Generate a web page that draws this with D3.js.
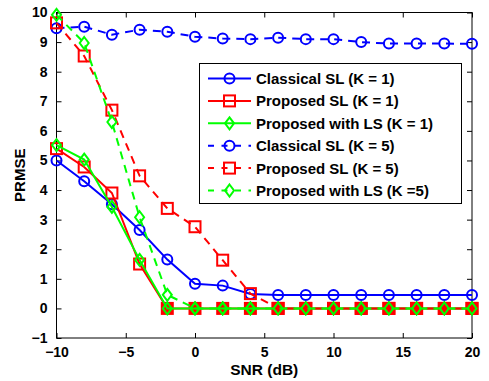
<!DOCTYPE html>
<html><head><meta charset="utf-8">
<script src="https://cdn.jsdelivr.net/npm/d3@7"></script>
<style>body{margin:0;background:#fff}svg{display:block}text{font-family:"Liberation Sans",Arial,sans-serif;font-weight:bold}</style>
</head><body><svg id="c" width="489" height="381"></svg>
<script>
const snr = [-10,-8,-6,-4,-2,0,2,4,6,8,10,12,14,16,18,20];
const classicalK1 = [5.0,4.3,3.52,2.65,1.65,0.83,0.77,0.49,0.45,0.45,0.45,0.45,0.45,0.45,0.45,0.45];
const proposedK1 = [5.4,4.78,3.9,1.5,0,0,0,0,0,0,0,0,0,0,0,0];
const lsK1 = [5.52,5.03,3.43,1.64,0,0,0,0,0,0,0,0,0,0,0,0];
const classicalK5 = [9.47,9.52,9.25,9.42,9.35,9.18,9.12,9.1,9.15,9.1,9.1,9.0,8.95,8.95,8.95,8.94];
const proposedK5 = [9.65,8.53,6.7,4.48,3.38,2.76,1.63,0.5,0,0,0,0,0,0,0,0];
const lsK5 = [9.92,8.97,6.3,3.08,0.46,0,0,0,0,0,0,0,0,0,0,0];
const xTicks = [-10,-5,0,5,10,15,20];
const yTicks = [-1,0,1,2,3,4,5,6,7,8,9,10];
const labels = ["Classical SL (K = 1)","Proposed SL (K = 1)","Proposed with LS (K = 1)","Classical SL (K = 5)","Proposed SL (K = 5)","Proposed with LS (K =5)"];

const series = [
 {name:labels[0], v:classicalK1, c:"#0000ff", m:"circle", dash:null},
 {name:labels[1], v:proposedK1, c:"#ff0000", m:"square", dash:null},
 {name:labels[2], v:lsK1, c:"#00ff00", m:"diamond", dash:null},
 {name:labels[3], v:classicalK5, c:"#0000ff", m:"circle", dash:"8,6"},
 {name:labels[4], v:proposedK5, c:"#ff0000", m:"square", dash:"8,6"},
 {name:labels[5], v:lsK5, c:"#00ff00", m:"diamond", dash:"8,6"}
];

const L=56.5, R=472, T=12.5, B=338;
const svg = d3.select("#c");
const x = d3.scaleLinear().domain([-10,20]).range([L,R]);
const y = d3.scaleLinear().domain([-1,10]).range([B,T]);

const g = svg.append("g");
g.append("g").attr("transform",`translate(0,${B})`).call(d3.axisBottom(x).tickValues(xTicks).tickSizeInner(-5).tickSizeOuter(0).tickPadding(9).tickFormat(d=>d<0?"\u2212"+Math.abs(d):d));
g.append("g").attr("transform",`translate(0,${T})`).call(d3.axisTop(x).tickValues(xTicks).tickSizeInner(-5).tickSizeOuter(0).tickFormat(""));
g.append("g").attr("transform",`translate(${L},0)`).call(d3.axisLeft(y).tickValues(yTicks).tickSizeInner(-5).tickSizeOuter(0).tickPadding(9).tickFormat(d=>d<0?"\u2212"+Math.abs(d):d));
g.append("g").attr("transform",`translate(${R},0)`).call(d3.axisRight(y).tickValues(yTicks).tickSizeInner(-5).tickSizeOuter(0).tickFormat(""));
g.selectAll(".domain").remove();
g.selectAll(".tick line").attr("stroke","#000").attr("stroke-width",1);
g.selectAll(".tick text").attr("font-size",14).attr("fill","#000").style("font-family",'"Liberation Sans",Arial,sans-serif').style("font-weight","bold");
svg.append("rect").attr("x",L).attr("y",T).attr("width",R-L).attr("height",B-T).attr("fill","none").attr("stroke","#000").attr("stroke-width",1);

function marker(sel, type, c, filled){
  if(type==="circle") sel.append("circle").attr("r",5).attr("fill","none").attr("stroke",c).attr("stroke-width",2);
  else if(type==="square") sel.append("rect").attr("x",-5.5).attr("y",-5.5).attr("width",11).attr("height",11).attr("fill",filled?c:"none").attr("stroke",c).attr("stroke-width",2);
  else sel.append("path").attr("d","M0,-6L4.5,0L0,6L-4.5,0Z").attr("fill","none").attr("stroke",c).attr("stroke-width",2);
}
const line = d3.line().x((d,i)=>x(snr[i])).y(d=>y(d));
const plot = svg.append("g");
series.forEach(s=>{
  const gg = plot.append("g");
  gg.append("path").attr("d",line(s.v)).attr("fill","none").attr("stroke",s.c).attr("stroke-width",2).attr("stroke-dasharray",s.dash);
  s.v.forEach((v,i)=>{ const mg = gg.append("g").attr("transform",`translate(${x(snr[i])},${y(v)})`); marker(mg,s.m,s.c, v===0); });
});

const lg = svg.append("g");
lg.append("rect").attr("x",199.5).attr("y",63.5).attr("width",262).attr("height",140).attr("fill","#fff").attr("stroke","#000").attr("stroke-width",1);
series.forEach((s,i)=>{
  const cy = 78.5 + i*22.4;
  lg.append("line").attr("x1",208).attr("x2",251).attr("y1",cy).attr("y2",cy).attr("stroke",s.c).attr("stroke-width",2).attr("stroke-dasharray",s.dash?"6,7.5":null);
  marker(lg.append("g").attr("transform",`translate(229.5,${cy})`), s.m, s.c, false);
  lg.append("text").attr("x",256).attr("y",cy+5.5).attr("font-size",15).attr("fill","#000").text(s.name);
});

svg.append("text").attr("x",(L+R)/2).attr("y",375).attr("text-anchor","middle").attr("font-size",15.5).text("SNR (dB)");
svg.append("text").attr("transform",`translate(25,${(T+B)/2}) rotate(-90)`).attr("text-anchor","middle").attr("font-size",15).text("PRMSE");
</script></body></html>
